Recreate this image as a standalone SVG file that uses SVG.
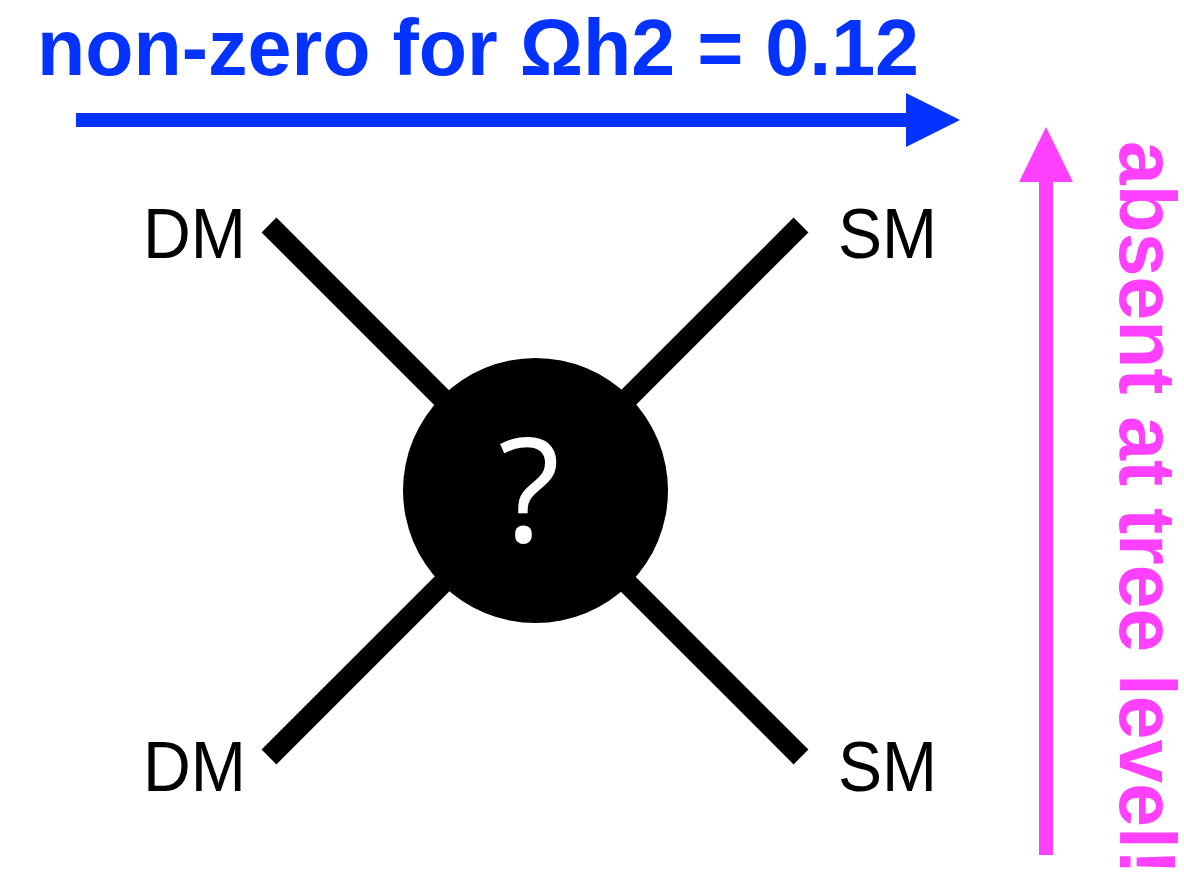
<svg xmlns="http://www.w3.org/2000/svg" width="1184" height="885" viewBox="0 0 1184 885">
  <style>
    .lbl { font-family: "Liberation Sans", Arial, sans-serif; font-size: 71px; fill: #000; }
    .big { font-family: "Liberation Sans", Arial, sans-serif; font-size: 80px; font-weight: bold; }
    .leg { stroke: #000; stroke-width: 21; stroke-linecap: butt; fill: none; }
  </style>
  <rect width="1184" height="885" fill="#fff"/>
  <g id="connectors">
    <line class="leg" x1="269" y1="225" x2="535" y2="491"/>
    <line class="leg" x1="801" y1="225" x2="535" y2="491"/>
    <line class="leg" x1="269" y1="757" x2="535" y2="491"/>
    <line class="leg" x1="801" y1="757" x2="535" y2="491"/>
  </g>
  <g id="blob">
    <circle cx="535.5" cy="490.5" r="132.5" fill="#000"/>
    <text x="529" y="542" text-anchor="middle" font-family="'Open Sans', 'Liberation Sans', sans-serif" font-size="144" fill="#fff">?</text>
  </g>
  <g id="dm-top"><text class="lbl" x="143" y="258" textLength="103" lengthAdjust="spacingAndGlyphs">DM</text></g>
  <g id="dm-bottom"><text class="lbl" x="143" y="791" textLength="103" lengthAdjust="spacingAndGlyphs">DM</text></g>
  <g id="sm-top"><text class="lbl" x="838" y="258" textLength="99" lengthAdjust="spacingAndGlyphs">SM</text></g>
  <g id="sm-bottom"><text class="lbl" x="838" y="791" textLength="99" lengthAdjust="spacingAndGlyphs">SM</text></g>
  <g id="blue-arrow">
    <text class="big" x="37" y="75" fill="#0433FF" textLength="882" lengthAdjust="spacingAndGlyphs">non-zero for Ωh2 = 0.12</text>
    <rect x="76" y="113" width="832" height="14" fill="#0433FF"/>
    <polygon points="906,93 960,120 906,147" fill="#0433FF"/>
  </g>
  <g id="pink-arrow">
    <rect x="1039" y="180" width="14" height="675" fill="#FF40FF"/>
    <polygon points="1019,182 1046,127 1073,182" fill="#FF40FF"/>
    <text class="big" transform="translate(1120,141) rotate(90)" x="0" y="0" font-size="78" fill="#FF40FF" textLength="734" lengthAdjust="spacingAndGlyphs">absent at tree level!</text>
  </g>
</svg>
